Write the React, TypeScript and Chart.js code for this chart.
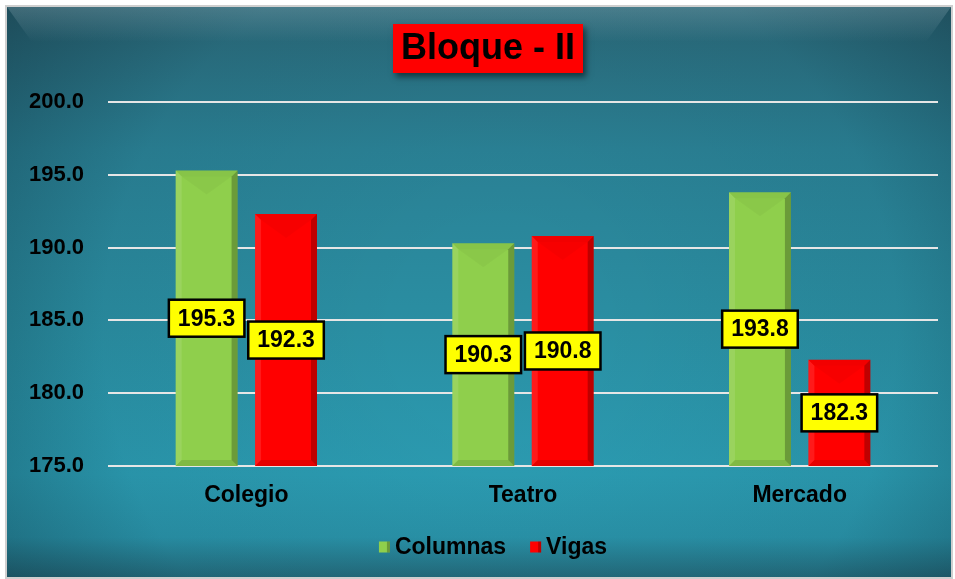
import { useEffect, useRef } from "react";
import { Chart, registerables } from "chart.js";

Chart.register(...registerables);

const categories = ["Colegio", "Teatro", "Mercado"];
const columnas = [195.3, 190.3, 193.8];
const vigas = [192.3, 190.8, 182.3];
const seriesNames = ["Columnas", "Vigas"];
const chartTitle = "Bloque - II";
const yMin = 175;
const yMax = 200;
const yStep = 5;

const FONT = "'Liberation Sans', Arial, sans-serif";
const GREEN = "#8fcf4c";
const RED = "#ff0000";

const backgroundPlugin = {
  id: "bg",
  beforeDraw(chart: any) {
    const ctx = chart.ctx as CanvasRenderingContext2D;
    const W = chart.width;
    const H = chart.height;
    ctx.save();
    ctx.fillStyle = "#ffffff";
    ctx.fillRect(0, 0, W, H);
    const x0 = 7, y0 = 7, x1 = W - 4, y1 = H - 2;
    const lg = ctx.createLinearGradient(0, y0, 0, y1);
    lg.addColorStop(0, "#2a6878");
    lg.addColorStop(0.25, "#2a8195");
    lg.addColorStop(0.55, "#2a8ea2");
    lg.addColorStop(0.82, "#2b9bb1");
    lg.addColorStop(0.93, "#2992a8");
    lg.addColorStop(1, "#236a7b");
    ctx.fillStyle = lg;
    ctx.fillRect(x0, y0, x1 - x0, y1 - y0);
    const rg = ctx.createRadialGradient(500, 330, 100, 500, 330, 640);
    rg.addColorStop(0, "rgba(0,0,0,0)");
    rg.addColorStop(0.55, "rgba(5,20,30,0.06)");
    rg.addColorStop(1, "rgba(5,20,30,0.4)");
    ctx.fillStyle = rg;
    ctx.fillRect(x0, y0, x1 - x0, y1 - y0);
    const tb = ctx.createLinearGradient(0, y0, 0, y0 + 35);
    tb.addColorStop(0, "rgba(190,215,225,0.22)");
    tb.addColorStop(1, "rgba(190,215,225,0)");
    ctx.fillStyle = tb;
    ctx.beginPath();
    ctx.moveTo(x0, y0);
    ctx.lineTo(x1, y0);
    ctx.lineTo(x1 - 25, y0 + 35);
    ctx.lineTo(x0 + 25, y0 + 35);
    ctx.closePath();
    ctx.fill();
    ctx.strokeStyle = "#cfcfcf";
    ctx.lineWidth = 2;
    ctx.strokeRect(x0 - 1, y0 - 1, x1 - x0 + 2, y1 - y0 + 2);
    ctx.restore();
  },
};

function bevelBar(ctx: CanvasRenderingContext2D, left: number, right: number, top: number, bottom: number) {
  const b = 6;
  ctx.save();
  ctx.fillStyle = "rgba(255,255,255,0.1)";
  ctx.beginPath();
  ctx.moveTo(left, top);
  ctx.lineTo(left + b, top + b);
  ctx.lineTo(left + b, bottom - b);
  ctx.lineTo(left, bottom);
  ctx.closePath();
  ctx.fill();
  ctx.fillStyle = "rgba(0,0,0,0.05)";
  ctx.beginPath();
  ctx.moveTo(left, top);
  ctx.lineTo(right, top);
  ctx.lineTo(right - b, top + b);
  ctx.lineTo(left + b, top + b);
  ctx.closePath();
  ctx.fill();
  ctx.fillStyle = "rgba(0,0,0,0.03)";
  ctx.beginPath();
  ctx.moveTo(left + b, top + b);
  ctx.lineTo(right - b, top + b);
  ctx.lineTo((left + right) / 2, top + 24);
  ctx.closePath();
  ctx.fill();
  ctx.fillStyle = "rgba(0,0,0,0.25)";
  ctx.beginPath();
  ctx.moveTo(right, top);
  ctx.lineTo(right, bottom);
  ctx.lineTo(right - b, bottom - b);
  ctx.lineTo(right - b, top + b);
  ctx.closePath();
  ctx.fill();
  ctx.fillStyle = "rgba(0,0,0,0.1)";
  ctx.beginPath();
  ctx.moveTo(left, bottom);
  ctx.lineTo(right, bottom);
  ctx.lineTo(right - b, bottom - b);
  ctx.lineTo(left + b, bottom - b);
  ctx.closePath();
  ctx.fill();
  ctx.restore();
}

const overlayPlugin = {
  id: "overlay",
  afterDatasetsDraw(chart: any) {
    const ctx = chart.ctx as CanvasRenderingContext2D;
    const bottomPx = chart.chartArea.bottom;
    chart.data.datasets.forEach((ds: any, di: number) => {
      const meta = chart.getDatasetMeta(di);
      meta.data.forEach((el: any) => {
        const p = el.getProps(["x", "y", "base", "width"], true);
        const base = Math.min(p.base, bottomPx);
        bevelBar(ctx, p.x - p.width / 2, p.x + p.width / 2, p.y, base);
      });
    });
    ctx.save();
    ctx.font = `bold 23px ${FONT}`;
    ctx.textAlign = "center";
    ctx.textBaseline = "middle";
    chart.data.datasets.forEach((ds: any, di: number) => {
      const meta = chart.getDatasetMeta(di);
      meta.data.forEach((el: any, i: number) => {
        const p = el.getProps(["x", "y", "base"], true);
        const base = Math.min(p.base, bottomPx);
        const txt = Number(ds.data[i]).toFixed(1);
        const tw = ctx.measureText(txt).width;
        const w = tw + 18;
        const h = 37;
        const cx = p.x;
        const cy = (p.y + base) / 2;
        ctx.fillStyle = "#ffff00";
        ctx.fillRect(cx - w / 2, cy - h / 2, w, h);
        ctx.lineWidth = 2.5;
        ctx.strokeStyle = "#000000";
        ctx.strokeRect(cx - w / 2, cy - h / 2, w, h);
        ctx.fillStyle = "#000000";
        ctx.fillText(txt, cx, cy + 1);
      });
    });
    ctx.restore();
  },
  afterDraw(chart: any) {
    const ctx = chart.ctx as CanvasRenderingContext2D;
    ctx.save();
    ctx.font = `bold 36px ${FONT}`;
    const tw = ctx.measureText(chartTitle).width;
    const bw = tw + 16;
    const bh = 49;
    const bx = 488 - bw / 2;
    const by = 24;
    ctx.save();
    ctx.shadowColor = "rgba(0,0,0,0.5)";
    ctx.shadowBlur = 6;
    ctx.shadowOffsetX = 3;
    ctx.shadowOffsetY = 4;
    ctx.fillStyle = "#ff0000";
    ctx.fillRect(bx, by, bw, bh);
    ctx.restore();
    ctx.fillStyle = "#000000";
    ctx.textAlign = "center";
    ctx.textBaseline = "middle";
    ctx.fillText(chartTitle, 488, by + bh / 2 + 1);

    ctx.font = `bold 23px ${FONT}`;
    const sq = 11;
    const gapSq = 5;
    const gapItem = 24;
    const colors = [GREEN, RED];
    const widths = seriesNames.map((n) => ctx.measureText(n).width);
    const total = widths.reduce((a, w) => a + sq + gapSq + w, 0) + gapItem * (seriesNames.length - 1);
    let x = 493 - total / 2;
    const ly = 547;
    ctx.textAlign = "left";
    seriesNames.forEach((n, i) => {
      ctx.fillStyle = colors[i];
      ctx.fillRect(x, ly - sq / 2, sq, sq);
      ctx.fillStyle = "rgba(0,0,0,0.25)";
      ctx.fillRect(x + sq - 3, ly - sq / 2, 3, sq);
      ctx.fillStyle = "#000000";
      ctx.fillText(n, x + sq + gapSq, ly + 1);
      x += sq + gapSq + widths[i] + gapItem;
    });
    ctx.restore();
  },
};

export default function App() {
  const ref = useRef<HTMLCanvasElement | null>(null);
  useEffect(() => {
    if (!ref.current) return;
    const chart = new Chart(ref.current, {
      type: "bar",
      data: {
        labels: categories,
        datasets: [
          {
            label: seriesNames[0],
            data: columnas,
            backgroundColor: GREEN,
            borderWidth: 0,
            categoryPercentage: 0.574,
            barPercentage: 0.78,
          },
          {
            label: seriesNames[1],
            data: vigas,
            backgroundColor: RED,
            borderWidth: 0,
            categoryPercentage: 0.574,
            barPercentage: 0.78,
          },
        ],
      },
      options: {
        responsive: false,
        animation: false,
        layout: { padding: { left: 0, right: 17, top: 102, bottom: 0 } },
        plugins: {
          legend: { display: false },
          title: { display: false },
          tooltip: { enabled: false },
        },
        scales: {
          x: {
            grid: { display: false, drawTicks: false },
            border: { display: false },
            ticks: {
              color: "#000000",
              font: { family: FONT, size: 23, weight: "bold" },
              padding: 16,
            },
            afterFit(scale: any) {
              scale.height = 113;
            },
          },
          y: {
            min: yMin,
            max: yMax,
            grid: { color: "#e6e6e6", lineWidth: 2, drawTicks: false },
            border: { display: false },
            ticks: {
              stepSize: yStep,
              color: "#000000",
              padding: 24,
              font: { family: FONT, size: 22, weight: "bold" },
              callback: (v: any) => Number(v).toFixed(1),
            },
            afterFit(scale: any) {
              scale.width = 108;
            },
          },
        },
      },
      plugins: [backgroundPlugin, overlayPlugin],
    });
    return () => chart.destroy();
  }, []);
  return (
    <div style={{ position: "fixed", left: 0, top: 0, width: 955, height: 579 }}>
      <canvas ref={ref} width={955} height={579} style={{ display: "block" }} />
    </div>
  );
}
